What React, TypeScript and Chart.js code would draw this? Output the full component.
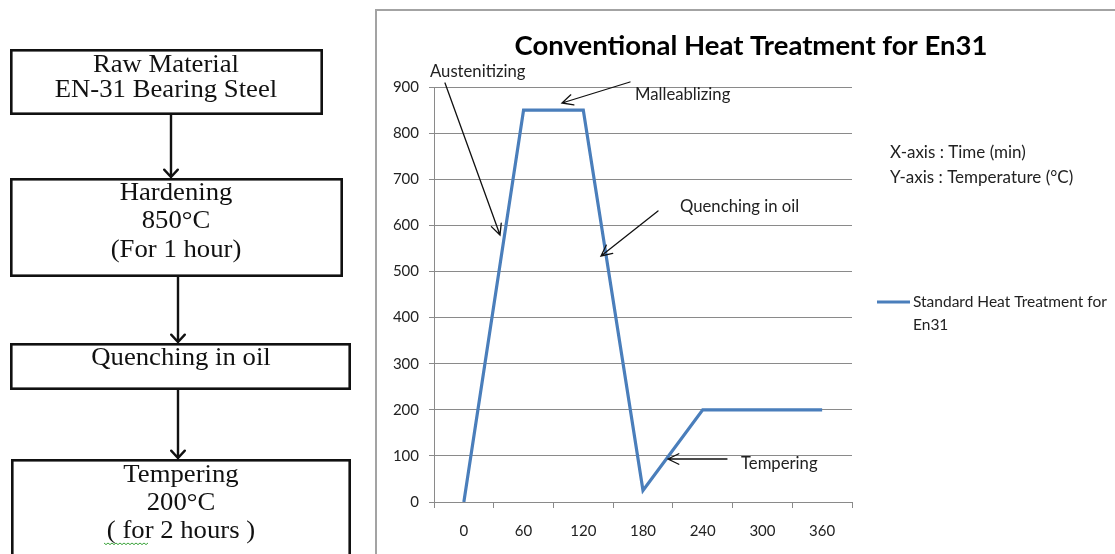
import React, { useEffect, useRef } from 'react';
import { Chart, registerables } from 'chart.js';

Chart.register(...registerables);

// ---- data ----
const timeLabels = ['0', '60', '120', '180', '240', '300', '360'];
const temperatureValues = [0, 850, 850, 25, 200, 200, 200];
const seriesName = 'Standard Heat Treatment for En31';
const seriesLegendLines = ['Standard Heat Treatment for', 'En31'];
const chartTitle = 'Conventional Heat Treatment for En31';
const yMin = 0;
const yMax = 900;
const yStep = 100;
const axisNotes = ['X-axis : Time (min)', 'Y-axis : Temperature (°C)'];
const flowSteps = [
  ['Raw Material', 'EN-31 Bearing Steel'],
  ['Hardening', '850°C', '(For 1 hour)'],
  ['Quenching in oil'],
  ['Tempering', '200°C', '( for 2 hours )'],
];
const stageNotes = ['Austenitizing', 'Malleablizing', 'Quenching in oil', 'Tempering'];

const W = 1115;
const H = 554;
const SANS = 'Lato, "Open Sans", "Noto Sans", sans-serif';
const SERIF = '"Liberation Serif", "DejaVu Serif", serif';
const LINE_BLUE = '#4A7EBB';
const GRID = '#8a8a8a';

function drawArrow(
  ctx: CanvasRenderingContext2D,
  x1: number, y1: number, x2: number, y2: number,
  head = 12, lw = 1.3, spread = 0.45, color = '#111'
) {
  const a = Math.atan2(y2 - y1, x2 - x1);
  ctx.save();
  ctx.strokeStyle = color;
  ctx.lineWidth = lw;
  ctx.lineCap = 'round';
  ctx.beginPath();
  ctx.moveTo(x1, y1);
  ctx.lineTo(x2, y2);
  ctx.moveTo(x2 - head * Math.cos(a - spread), y2 - head * Math.sin(a - spread));
  ctx.lineTo(x2, y2);
  ctx.lineTo(x2 - head * Math.cos(a + spread), y2 - head * Math.sin(a + spread));
  ctx.stroke();
  ctx.restore();
}

const pagePlugin = {
  id: 'pageDecor',
  beforeDraw(chart: any) {
    const ctx: CanvasRenderingContext2D = chart.ctx;
    ctx.save();
    ctx.fillStyle = '#ffffff';
    ctx.fillRect(0, 0, W, H);

    // chart frame
    ctx.strokeStyle = '#a3a3a3';
    ctx.lineWidth = 2;
    ctx.beginPath();
    ctx.moveTo(376, H + 2);
    ctx.lineTo(376, 10);
    ctx.lineTo(W + 2, 10);
    ctx.stroke();

    // flowchart boxes
    const boxes = [
      { l: 10, r: 323, t: 49, b: 115, c: 166, base: [72, 97] },
      { l: 10, r: 343, t: 178, b: 277, c: 176, base: [200, 228, 257] },
      { l: 10, r: 351, t: 343, b: 390, c: 181, base: [365] },
      { l: 11, r: 351, t: 459, b: 580, c: 181, base: [482, 510, 538] },
    ];
    ctx.strokeStyle = '#111';
    ctx.lineWidth = 2.6;
    boxes.forEach((bx) => {
      ctx.strokeRect(bx.l + 1.3, bx.t + 1.3, bx.r - bx.l - 2.6, bx.b - bx.t - 2.6);
    });
    ctx.fillStyle = '#111';
    ctx.font = `24.5px ${SERIF}`;
    ctx.textAlign = 'center';
    ctx.textBaseline = 'alphabetic';
    boxes.forEach((bx, i) => {
      flowSteps[i].forEach((line, j) => {
        ctx.save();
        ctx.translate(bx.c, bx.base[j]);
        ctx.scale(1.09, 1);
        ctx.fillText(line, 0, 0);
        ctx.restore();
      });
    });
    // spellcheck squiggle under "for"
    ctx.strokeStyle = '#3aa33a';
    ctx.lineWidth = 1;
    ctx.beginPath();
    for (let k = 0; k <= 22; k++) {
      const x = 104 + k * 2;
      const y = 543 + (k % 2 === 0 ? 0 : 1.6);
      if (k === 0) ctx.moveTo(x, y); else ctx.lineTo(x, y);
    }
    ctx.stroke();

    // flow arrows
    const flowArrows = [
      [171, 115, 178],
      [178, 277, 343],
      [178, 390, 459],
    ];
    flowArrows.forEach(([x, y1, y2]) => {
      drawArrow(ctx, x, y1, x, y2 - 1, 10, 2.4, 0.75, '#111');
    });

    ctx.restore();
  },
  afterDraw(chart: any) {
    const ctx: CanvasRenderingContext2D = chart.ctx;
    ctx.save();
    // title
    ctx.fillStyle = '#000';
    ctx.font = `bold 27.5px ${SANS}`;
    ctx.textAlign = 'center';
    ctx.textBaseline = 'alphabetic';
    ctx.fillText(chartTitle, 751, 55);

    // stage notes
    ctx.font = `16.7px ${SANS}`;
    ctx.fillStyle = '#222';
    ctx.textAlign = 'left';
    ctx.fillText(stageNotes[0], 430, 77);
    ctx.fillText(stageNotes[1], 635, 100);
    ctx.fillText(stageNotes[2], 680, 212);
    ctx.fillText(stageNotes[3], 741, 469);

    drawArrow(ctx, 445, 83, 500, 235);
    drawArrow(ctx, 630, 82, 562, 103);
    drawArrow(ctx, 658, 211, 601, 256);
    drawArrow(ctx, 727, 459, 668, 459);

    // axis notes
    ctx.font = `17px ${SANS}`;
    ctx.fillStyle = '#222';
    ctx.fillText(axisNotes[0], 890, 158);
    ctx.fillText(axisNotes[1], 890, 183);

    // legend
    const ds = chart.data.datasets[0];
    ctx.strokeStyle = ds.borderColor;
    ctx.lineWidth = 3;
    ctx.beginPath();
    ctx.moveTo(877, 302);
    ctx.lineTo(910, 302);
    ctx.stroke();
    ctx.font = `15.5px ${SANS}`;
    ctx.fillStyle = '#222';
    ctx.fillText(seriesLegendLines[0], 913, 307);
    ctx.fillText(seriesLegendLines[1], 913, 330);
    ctx.restore();
  },
};

export default function App() {
  const ref = useRef<HTMLCanvasElement | null>(null);

  useEffect(() => {
    document.body.style.margin = '0';
    const canvas = ref.current;
    if (!canvas) return;
    const chart = new Chart(canvas, {
      type: 'line',
      data: {
        labels: timeLabels,
        datasets: [
          {
            label: seriesName,
            data: temperatureValues,
            borderColor: LINE_BLUE,
            backgroundColor: LINE_BLUE,
            borderWidth: 3.2,
            pointRadius: 0,
            tension: 0,
            fill: false,
          },
        ],
      },
      options: {
        animation: false,
        responsive: false,
        devicePixelRatio: 1,
        layout: { padding: { left: 376, top: 87, right: W - 852, bottom: 0 } },
        plugins: {
          legend: { display: false },
          title: { display: false },
          tooltip: { enabled: false },
        },
        scales: {
          x: {
            type: 'category',
            offset: true,
            afterFit: (s: any) => { s.height = H - 502; },
            grid: {
              offset: true,
              drawOnChartArea: false,
              drawTicks: true,
              tickLength: 6,
              color: GRID,
              lineWidth: 1,
            },
            border: { color: GRID, width: 1 },
            ticks: {
              color: '#222',
              font: { family: SANS, size: 15 },
              padding: 14,
              maxRotation: 0,
              autoSkip: false,
            },
          },
          y: {
            min: yMin,
            max: yMax,
            afterFit: (s: any) => { s.width = 58; },
            grid: {
              color: GRID,
              lineWidth: 1,
              drawTicks: true,
              tickLength: 5,
            },
            border: { color: GRID, width: 1 },
            ticks: {
              stepSize: yStep,
              color: '#222',
              font: { family: SANS, size: 15 },
              padding: 10,
            },
          },
        },
      },
      plugins: [pagePlugin],
    });
    return () => chart.destroy();
  }, []);

  return (
    <div style={{ position: 'fixed', left: 0, top: 0, width: W, height: H, overflow: 'hidden' }}>
      <canvas ref={ref} width={W} height={H} style={{ display: 'block', width: W, height: H }} />
    </div>
  );
}
